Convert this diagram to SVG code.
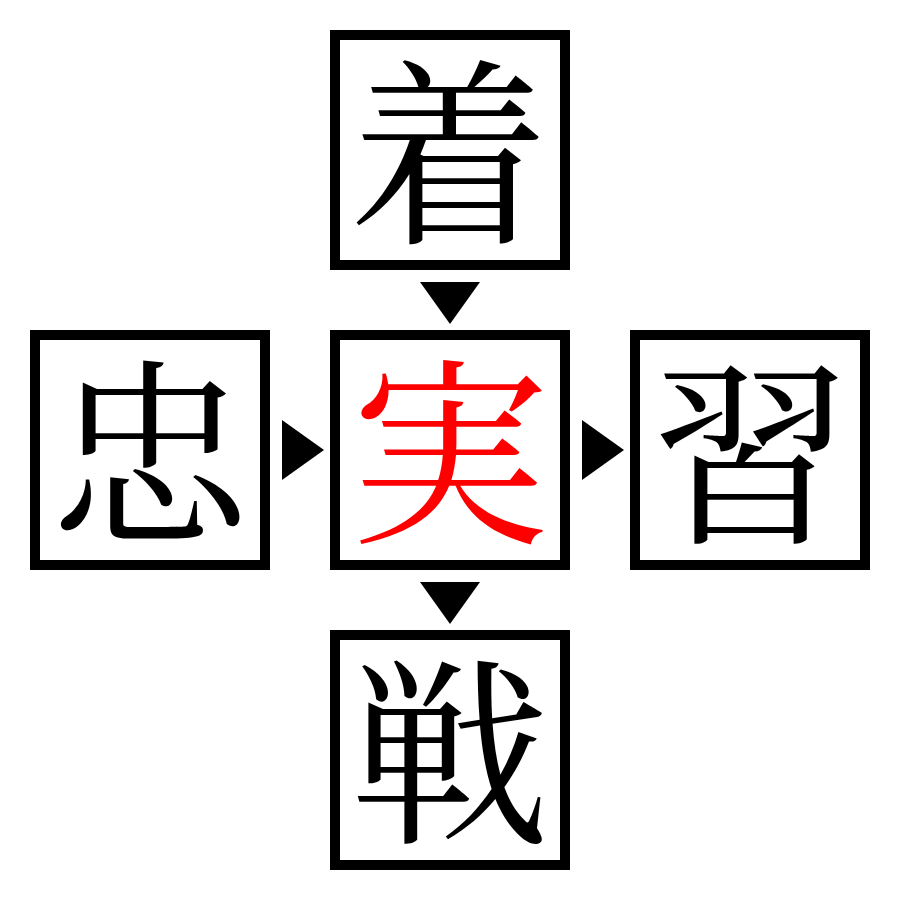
<svg xmlns="http://www.w3.org/2000/svg" width="900" height="900" viewBox="0 0 900 900">
<style>
.box{fill:#fff;stroke:#000;stroke-width:10}
.ch{font-family:"Noto Serif CJK JP","Noto Sans CJK JP",serif;font-size:200px;text-anchor:middle;dominant-baseline:central;fill:#000}
.red{fill:#f00}
.tri{fill:#000}
</style>
<rect width="900" height="900" fill="#fff"/>
<g id="connectors">
<polygon class="tri" points="420,282 480,282 450,324"/>
<polygon class="tri" points="420,582 480,582 450,624"/>
<polygon class="tri" points="282,420 324,450 282,480"/>
<polygon class="tri" points="582,420 624,450 582,480"/>
</g>
<g id="node-top"><rect class="box" x="335" y="35" width="230" height="230"/><text class="ch" x="450" y="141">着</text></g>
<g id="node-left"><rect class="box" x="35" y="335" width="230" height="230"/><text class="ch" x="150" y="441">忠</text></g>
<g id="node-center"><rect class="box" x="335" y="335" width="230" height="230"/><text class="ch red" x="450" y="441">実</text></g>
<g id="node-right"><rect class="box" x="635" y="335" width="230" height="230"/><text class="ch" x="750" y="441">習</text></g>
<g id="node-bottom"><rect class="box" x="335" y="635" width="230" height="230"/><text class="ch" x="450" y="741">戦</text></g>
</svg>
